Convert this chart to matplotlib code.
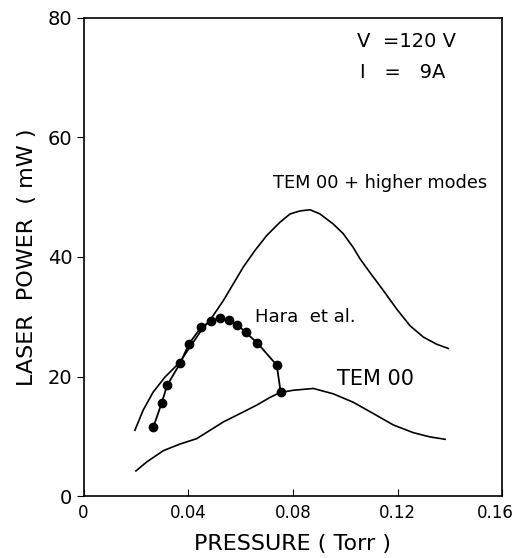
import matplotlib
matplotlib.use("Agg")
import matplotlib.pyplot as plt
import matplotlib.transforms as mtransforms

# TEM 00 + higher modes
hm_p = [0.0196, 0.0228, 0.0266, 0.0311, 0.0368, 0.0406, 0.0445, 0.0489, 0.0534,
        0.0572, 0.0610, 0.0655, 0.0700, 0.0750, 0.0789, 0.0827, 0.0865, 0.0903,
        0.0954, 0.0992, 0.1030, 0.1056, 0.1094, 0.1145, 0.1196, 0.1247, 0.1298,
        0.1349, 0.1393]
hm_w = [11.0, 14.4, 17.4, 19.9, 22.4, 24.9, 27.4, 29.8, 32.7,
        35.5, 38.3, 41.1, 43.6, 45.8, 47.2, 47.7, 47.9, 47.2,
        45.5, 43.9, 41.6, 39.7, 37.4, 34.4, 31.3, 28.5, 26.6,
        25.4, 24.7]

# TEM 00
t0_p = [0.0200, 0.0241, 0.0305, 0.0368, 0.0432, 0.0483, 0.0534, 0.0598, 0.0661,
        0.0712, 0.0750, 0.0801, 0.0878, 0.0954, 0.1030, 0.1107, 0.1183, 0.1260,
        0.1323, 0.1381]
t0_w = [4.2, 5.7, 7.6, 8.7, 9.6, 11.0, 12.4, 13.8, 15.2,
        16.5, 17.3, 17.7, 18.0, 17.1, 15.7, 13.8, 11.9, 10.6,
        9.9, 9.5]

# Hara et al.
hara_p = [0.0266, 0.0298, 0.0319, 0.0370, 0.0403, 0.0449, 0.0487, 0.0520,
          0.0555, 0.0587, 0.0619, 0.0664, 0.0738, 0.0753]
hara_w = [11.5, 15.5, 18.5, 22.3, 25.5, 28.2, 29.3, 29.8,
          29.4, 28.7, 27.4, 25.6, 21.9, 17.4]

plt.rcParams["font.family"] = "DejaVu Sans"
fig = plt.figure(figsize=(5.19, 5.58), dpi=100)
ax = fig.add_axes([0.161, 0.111, 0.807, 0.857])

ax.plot(hm_p, hm_w, "k-", lw=1.2)
ax.plot(t0_p, t0_w, "k-", lw=1.2)
ax.plot(hara_p, hara_w, "k-", lw=1.3, marker="o", ms=6)

ax.set_xlim(0, 0.16)
ax.set_ylim(0, 80)
ax.set_xticks([0, 0.04, 0.08, 0.12, 0.16])
ax.set_xticklabels(["0", "0.04", "0.08", "0.12", "0.16"])
ax.set_yticks([0, 20, 40, 60, 80])
ax.tick_params(axis="x", direction="in", length=5, labelsize=12, pad=6)
ax.tick_params(axis="y", direction="out", length=5, labelsize=14, pad=3)
for s in ax.spines.values():
    s.set_linewidth(1.2)

# nudge last x label so it stays inside the figure
last = ax.get_xticklabels()[-1]
last.set_transform(last.get_transform() +
                   mtransforms.ScaledTranslation(-5 / 72, 0, fig.dpi_scale_trans))

ax.set_xlabel("PRESSURE ( Torr )", fontsize=16, labelpad=8)
ax.set_ylabel("LASER  POWER  ( mW )", fontsize=16, labelpad=8)

ax.text(0.1045, 76.1, "V  =120 V", fontsize=14, ha="left", va="center")
ax.text(0.1055, 70.8, "I   =   9A", fontsize=14, ha="left", va="center")
ax.text(0.0723, 52.4, "TEM 00 + higher modes", fontsize=12.8, ha="left", va="center")
ax.text(0.0655, 29.9, "Hara  et al.", fontsize=13, ha="left", va="center")
ax.text(0.0970, 19.5, "TEM 00", fontsize=15, ha="left", va="center")

fig.savefig("out.png", dpi=100)
